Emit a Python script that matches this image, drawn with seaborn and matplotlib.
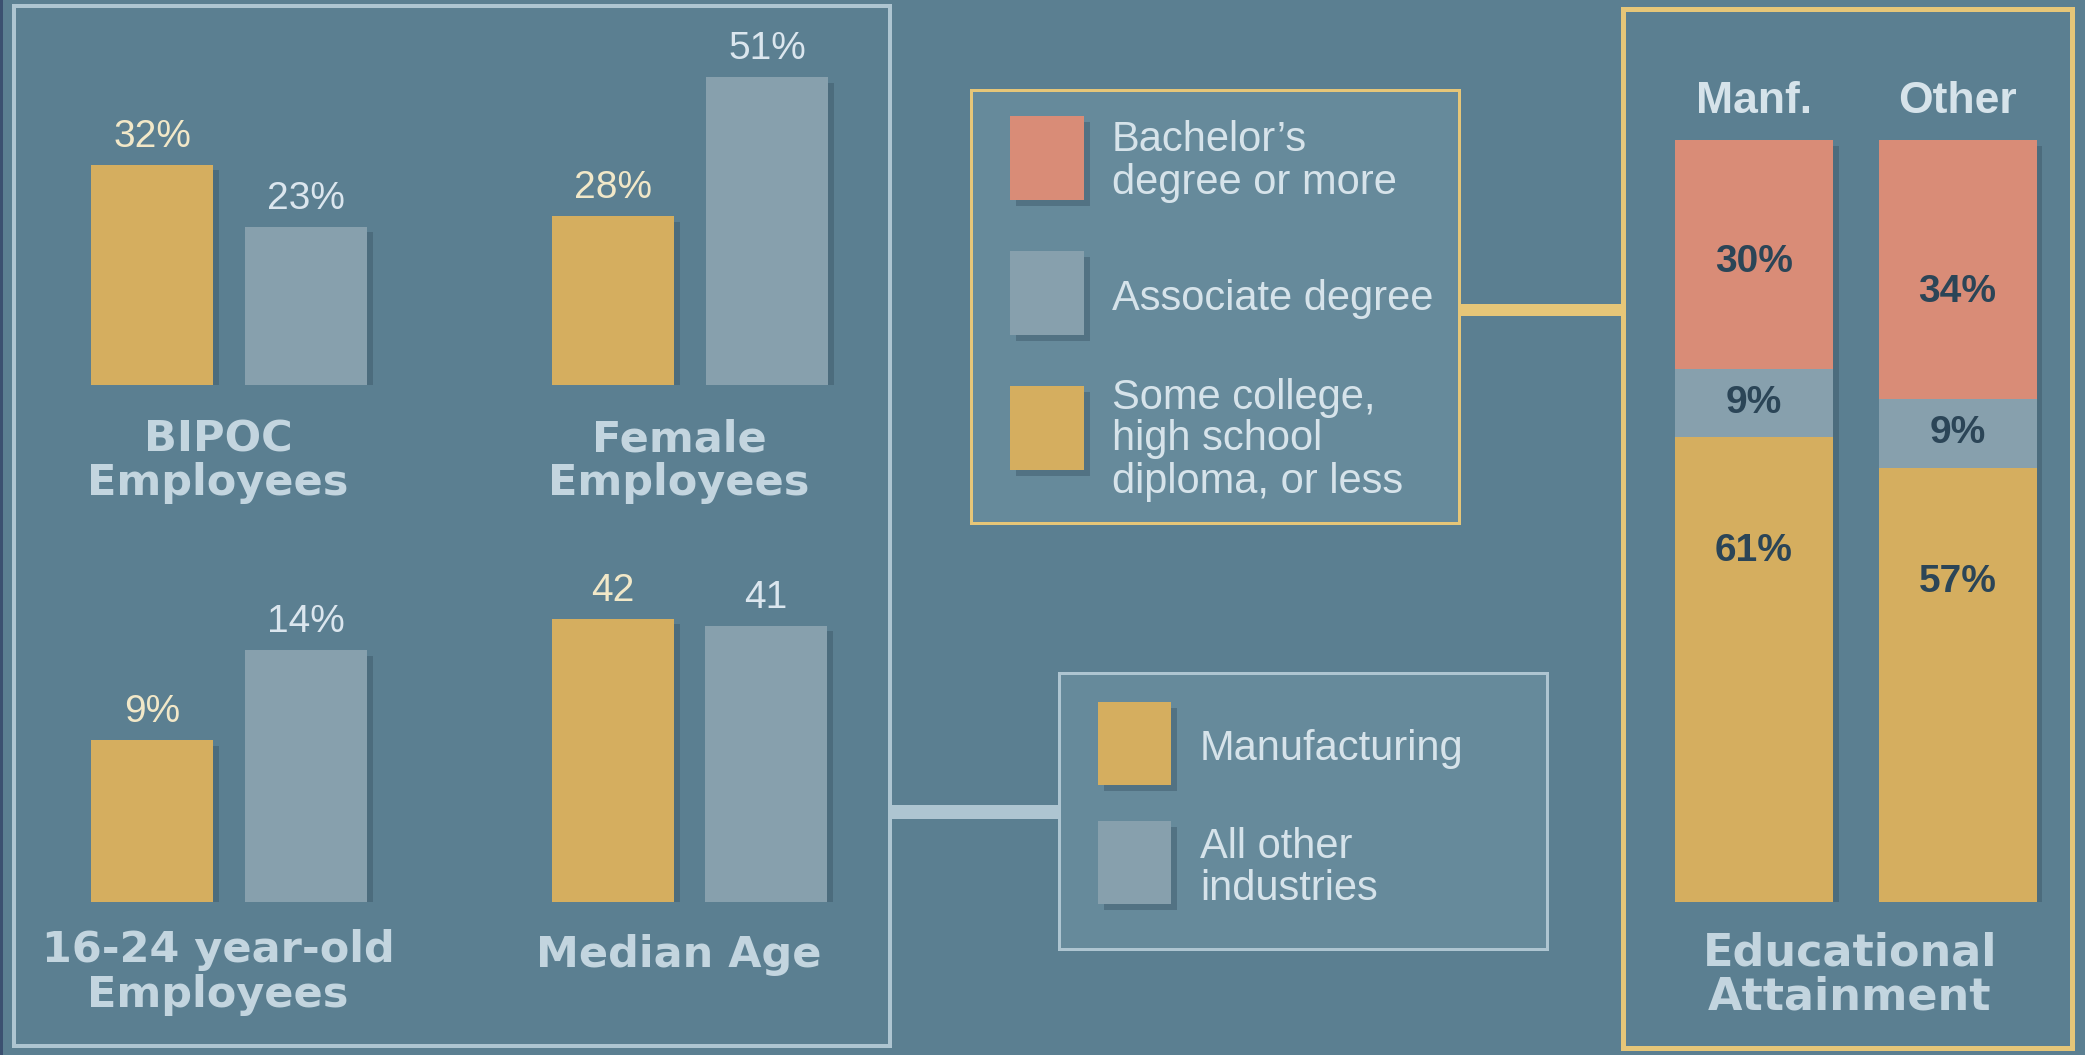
import matplotlib
matplotlib.use("Agg")
import matplotlib.pyplot as plt
import matplotlib.patches as mpatches
import matplotlib.patheffects as pe
import seaborn as sns
import pandas as pd

# ---------------- data ----------------
industries = ["Manufacturing", "All other industries"]
legend_industry_lines = [["Manufacturing"], ["All other", "industries"]]

bipoc_vals = [32, 23]
female_vals = [28, 51]
young_vals = [9, 14]
median_age_vals = [42, 41]

panel_titles = [["BIPOC", "Employees"], ["Female", "Employees"],
                ["16-24 year-old", "Employees"], ["Median Age"]]

edu_groups = ["Manf.", "Other"]
bachelor = [30, 34]
associate = [9, 9]
some_college = [61, 57]
edu_level_lines = [["Bachelor\u2019s", "degree or more"],
                   ["Associate degree"],
                   ["Some college,", "high school", "diploma, or less"]]
edu_title = ["Educational", "Attainment"]

# ---------------- style ----------------
W, H = 2085, 1055
BG = "#5b7f91"
BOXFILL = "#668a9b"
GOLD = "#d5ae5f"
GRAY = "#87a0ad"
SALMON = "#d98c77"
LIGHT_EDGE = "#aec5d1"
GOLD_EDGE = "#e6c678"
TITLE_C = "#c3d5df"
TEXT_C = "#d6e3ea"
CREAM = "#f2e8c8"
PALE = "#dbe6ee"
DARK = "#2b4557"
SANS = "Liberation Sans"
HEAVY = "DejaVu Sans"

sns.set_theme(style="white")
plt.rcParams["font.family"] = [SANS, "DejaVu Sans"]

fig = plt.figure(figsize=(W / 100, H / 100), dpi=100, facecolor=BG)

bg = fig.add_axes([0, 0, 1, 1], zorder=0)
bg.set_xlim(0, W)
bg.set_ylim(H, 0)
bg.axis("off")

shadow = [pe.SimplePatchShadow(offset=(4, -4), shadow_rgbFace="#3a5666", alpha=0.45), pe.Normal()]


def px(v):
    return v * 0.72  # pixels -> points


def rect(x0, y0, x1, y1, fc, ec="none", lw=0, z=1, fx=None):
    r = mpatches.Rectangle((x0, y0), x1 - x0, y1 - y0, facecolor=fc, edgecolor=ec,
                           linewidth=px(lw), zorder=z)
    if fx:
        r.set_path_effects(fx)
    bg.add_patch(r)
    return r


# left edge strip
rect(0, 0, 3, H, "#3b5070", z=0.5)

# boxes
rect(14, 6, 890, 1046, "none", LIGHT_EDGE, 4, z=2)
rect(1623, 9, 2072, 1048, "none", GOLD_EDGE, 5, z=2)
rect(971, 90, 1459, 523, BOXFILL, GOLD_EDGE, 3, z=2)
rect(1059, 673, 1547, 949, BOXFILL, LIGHT_EDGE, 3, z=2)

# connectors
rect(1459, 304, 1623, 316, GOLD_EDGE, z=1.5)
rect(890, 805, 1059, 819, LIGHT_EDGE, z=1.5)

# education legend
edu_colors = [SALMON, GRAY, GOLD]
sw_tops = [116, 251, 386]
text_base = [[151, 194], [310], [409, 450, 493]]
for col, top, lines, bases in zip(edu_colors, sw_tops, edu_level_lines, text_base):
    rect(1010, top, 1084, top + 84, col, z=3, fx=shadow)
    for ln, b in zip(lines, bases):
        bg.text(1112, b, ln, color=TEXT_C, fontsize=30, family=SANS, va="baseline", ha="left", zorder=4)

# industry legend
ind_colors = [GOLD, GRAY]
ind_tops = [702, 821]
ind_bases = [[760], [858, 900]]
for col, top, lines, bases in zip(ind_colors, ind_tops, legend_industry_lines, ind_bases):
    rect(1098, top, 1171, top + 83, col, z=3, fx=shadow)
    for ln, b in zip(lines, bases):
        bg.text(1200, b, ln, color=TEXT_C, fontsize=30, family=SANS, va="baseline", ha="left", zorder=4)


# ---------------- bar panels ----------------
def bar_panel(vals, c0, c1, base, scale, fmt, title, title_bases, title_dx=-11):
    d = c1 - c0
    x0, x1 = c0 - d / 2, c1 + d / 2
    hgt = 330
    ax = fig.add_axes([x0 / W, 1 - base / H, (x1 - x0) / W, hgt / H], zorder=2)
    ax.patch.set_alpha(0)
    df = pd.DataFrame({"industry": industries, "value": vals})
    sns.barplot(data=df, x="industry", y="value", hue="industry", order=industries,
                hue_order=industries, palette=[GOLD, GRAY], width=122 / d,
                saturation=1, legend=False, linewidth=0, ax=ax)
    for p in ax.patches:
        p.set_edgecolor("none")
        p.set_path_effects(shadow)
    ax.set_xlim(-0.5, 1.5)
    ax.set_ylim(0, hgt / scale)
    ax.axis("off")
    for i, v in enumerate(vals):
        ax.annotate(fmt.format(v), (i, v), xytext=(0, px(18)), textcoords="offset points",
                    ha="center", va="baseline", fontsize=28, family=SANS,
                    color=CREAM if i == 0 else PALE, annotation_clip=False)
    cx = (c0 + c1) / 2 + title_dx
    for ln, b in zip(title, title_bases):
        bg.text(cx, b, ln, color=TITLE_C, fontsize=31, family=HEAVY, weight="bold",
                ha="center", va="baseline", zorder=4)


bar_panel(bipoc_vals, 152, 306, 385.5, 6.90, "{}%", panel_titles[0], [451, 495])
bar_panel(female_vals, 613, 767, 385.5, 6.04, "{}%", panel_titles[1], [451, 495])
bar_panel(young_vals, 152, 306, 902, 18.0, "{}%", panel_titles[2], [962, 1007])
bar_panel(median_age_vals, 613, 766, 902, 6.74, "{}", panel_titles[3], [967])

# ---------------- education stacked bars ----------------
c0, c1 = 1754, 1957.5
d = c1 - c0
ex0, ex1 = c0 - d / 2, c1 + d / 2
etop, ebot = 140, 902
eax = fig.add_axes([ex0 / W, 1 - ebot / H, (ex1 - ex0) / W, (ebot - etop) / H], zorder=2)
eax.patch.set_alpha(0)
cum1 = [b for b in bachelor]
cum2 = [b + a for b, a in zip(bachelor, associate)]
cum3 = [b + a + s for b, a, s in zip(bachelor, associate, some_college)]
edf = pd.DataFrame({"group": edu_groups, "c1": cum1, "c2": cum2, "c3": cum3})
sns.barplot(data=edf, x="group", y="c3", order=edu_groups, color=GOLD, saturation=1,
            width=158 / d, linewidth=0, ax=eax)
for p in eax.patches:
    p.set_path_effects(shadow)
sns.barplot(data=edf, x="group", y="c2", order=edu_groups, color=GRAY, saturation=1,
            width=158 / d, linewidth=0, ax=eax)
sns.barplot(data=edf, x="group", y="c1", order=edu_groups, color=SALMON, saturation=1,
            width=158 / d, linewidth=0, ax=eax)
for p in eax.patches:
    p.set_edgecolor("none")
eax.set_xlim(-0.5, 1.5)
eax.set_ylim(100, 0)
eax.axis("off")
for i, g in enumerate(edu_groups):
    eax.annotate(g, (i, 0), xytext=(0, px(27)), textcoords="offset points", ha="center",
                 va="baseline", fontsize=32, weight="bold", family=SANS, color=TEXT_C,
                 annotation_clip=False)
    eax.text(i, cum1[i] - 14, f"{bachelor[i]}%", ha="center", va="center", fontsize=28,
             weight="bold", family=SANS, color=DARK)
    eax.text(i, cum1[i] + associate[i] / 2, f"{associate[i]}%", ha="center", va="center",
             fontsize=28, weight="bold", family=SANS, color=DARK)
    eax.text(i, cum2[i] + 15, f"{some_college[i]}%", ha="center", va="center", fontsize=28,
             weight="bold", family=SANS, color=DARK)

for ln, b in zip(edu_title, [966, 1009]):
    bg.text(1850, b, ln, color=TITLE_C, fontsize=32, family=HEAVY, weight="bold",
            ha="center", va="baseline", zorder=4)

fig.savefig("out.png", dpi=100, facecolor=BG)
